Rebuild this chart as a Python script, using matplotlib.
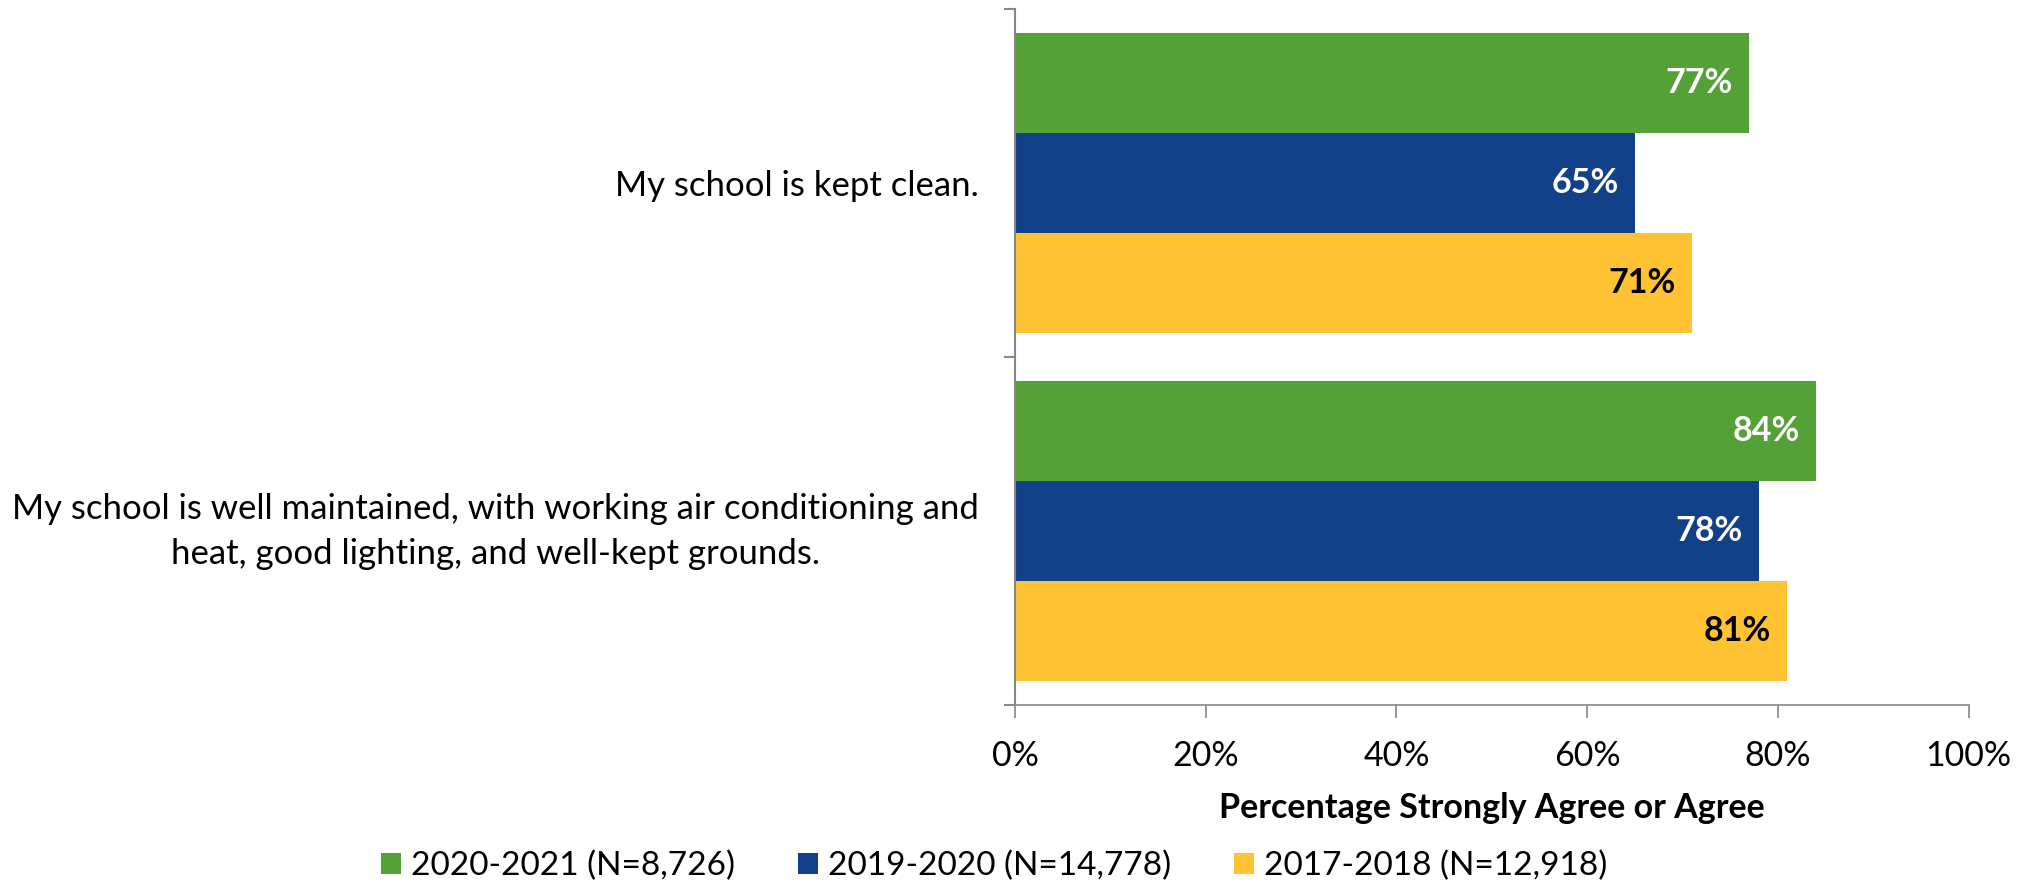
import matplotlib
matplotlib.use("Agg")
from matplotlib import pyplot as plt
from matplotlib.ticker import PercentFormatter
from matplotlib.transforms import ScaledTranslation
import numpy as np

plt.rcParams['font.family'] = ['Lato', 'DejaVu Sans']

questions = [ 'My school is kept clean.' ,
              'My school is well maintained, with working air conditioning and\nheat, good lighting, and well-kept grounds.' ]
years = [ '2020-2021 (N=8,726)' , '2019-2020 (N=14,778)' , '2017-2018 (N=12,918)' ]
pct_2021 = [ 77 , 84 ]
pct_2020 = [ 65 , 78 ]
pct_2018 = [ 71 , 81 ]
colors = [ '#53A137' , '#134189' , '#FFC232' ]
label_colors = [ 'white' , 'white' , 'black' ]

fig = plt.figure( figsize = ( 20.33 , 8.85 ) , dpi = 100 )
ax = fig.add_axes( [ 0.4993 , 0.2034 , 0.4690 , 0.7864 ] )

y = np.arange( len( questions ) )
h = 0.2874
series = [ pct_2021 , pct_2020 , pct_2018 ]

for i , vals in enumerate( series ) :
    pos = y - h + i * h
    bars = ax.barh( pos , vals , height = h , color = colors[ i ] , label = years[ i ] )
    for b , v in zip( bars , vals ) :
        ax.text( b.get_width() - 1.7 , b.get_y() + b.get_height() / 2 , f'{v}%' ,
                 ha = 'right' , va = 'center' , fontsize = 24.5 , fontweight = 'bold' ,
                 color = label_colors[ i ] )

ax.set_xlim( 0 , 100 )
ax.set_ylim( 1.5 , -0.5 )
ax.set_xticks( np.arange( 0 , 101 , 20 ) )
ax.xaxis.set_major_formatter( PercentFormatter( decimals = 0 ) )
ax.set_yticks( y )
ax.set_yticklabels( questions , multialignment = 'center' , linespacing = 1.5 )
ax.set_yticks( [ -0.5 , 0.5 , 1.5 ] , minor = True )

ax.tick_params( axis = 'y' , which = 'major' , length = 0 , pad = 26 , labelsize = 25 )
ax.tick_params( axis = 'y' , which = 'minor' , length = 8 , width = 1.5 , color = '#888888' , direction = 'out' )
ax.tick_params( axis = 'x' , length = 9 , width = 1.2 , color = '#888888' , pad = 16.5 , labelsize = 24.5 )

for s in [ 'top' , 'right' ] :
    ax.spines[ s ].set_visible( False )
ax.spines[ 'left' ].set_color( '#888888' )
ax.spines[ 'left' ].set_linewidth( 1.5 )
ax.spines[ 'bottom' ].set_color( '#888888' )
ax.spines[ 'bottom' ].set_linewidth( 1.2 )

# two-line label sits a bit high in the original
lab = ax.get_yticklabels()[ 1 ]
lab.set_transform( lab.get_transform() + ScaledTranslation( 0 , 0.09 , fig.dpi_scale_trans ) )

ax.set_xlabel( 'Percentage Strongly Agree or Agree' , fontsize = 24.5 , fontweight = 'bold' , labelpad = 14 )

fig.legend( loc = 'center' , bbox_to_anchor = ( 0.489 , 0.021 ) , ncol = 3 , frameon = False ,
            fontsize = 24 , handlelength = 0.6 , handleheight = 0.6 , handletextpad = 0.3 ,
            columnspacing = 1.9 )

plt.savefig( 'out.png' , dpi = 100 )
